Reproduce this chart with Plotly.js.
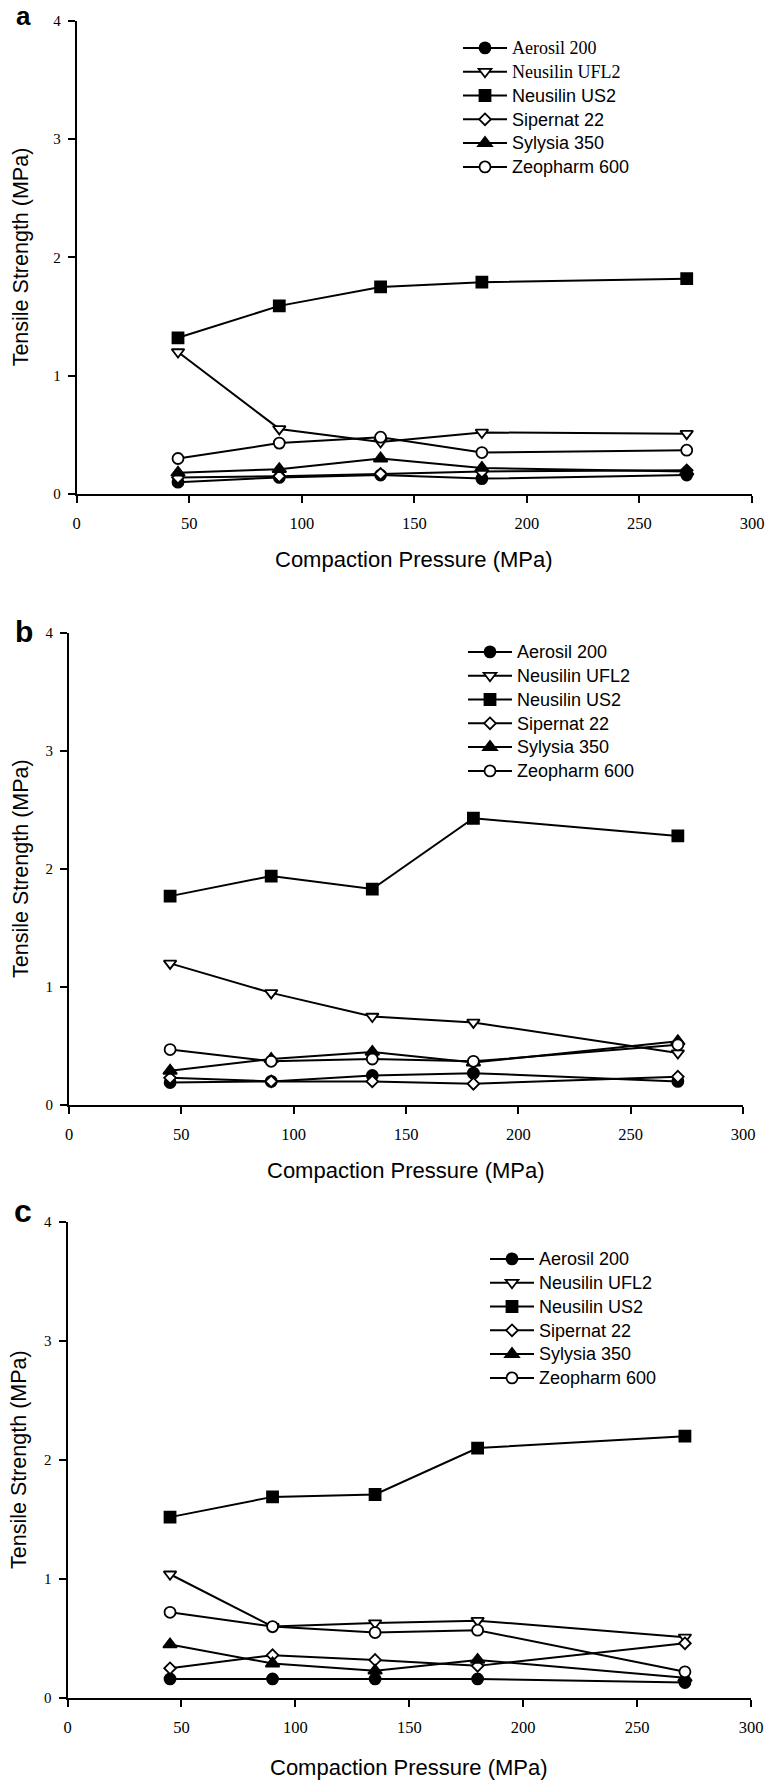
<!DOCTYPE html>
<html><head><meta charset="utf-8">
<script src="https://cdn.plot.ly/plotly-3.0.1.min.js"></script>
<style>html,body{margin:0;padding:0;background:#fff;} #chart{width:769px;height:1781px;}</style>
</head><body><div id="chart"></div>
<script>
// ---------- data ----------
const pressure = [45, 90, 135, 180, 271];
const seriesNames = ['Aerosil 200', 'Neusilin UFL2', 'Neusilin US2', 'Sipernat 22', 'Sylysia 350', 'Zeopharm 600'];
const xTicks = [0, 50, 100, 150, 200, 250, 300];
const yTicks = [0, 1, 2, 3, 4];
const panelLabels = ['a', 'b', 'c'];
const xTitle = 'Compaction Pressure (MPa)';
const yTitle = 'Tensile Strength (MPa)';

// panel a
const aerosilA   = [0.10, 0.14, 0.16, 0.13, 0.16];
const ufl2A      = [1.20, 0.55, 0.44, 0.52, 0.51];
const us2A       = [1.32, 1.59, 1.75, 1.79, 1.82];
const sipernatA  = [0.14, 0.15, 0.17, 0.19, 0.20];
const sylysiaA   = [0.18, 0.21, 0.30, 0.22, 0.19];
const zeopharmA  = [0.30, 0.43, 0.48, 0.35, 0.37];
// panel b
const aerosilB   = [0.19, 0.20, 0.25, 0.27, 0.20];
const ufl2B      = [1.20, 0.95, 0.75, 0.70, 0.44];
const us2B       = [1.77, 1.94, 1.83, 2.43, 2.28];
const sipernatB  = [0.23, 0.20, 0.20, 0.18, 0.24];
const sylysiaB   = [0.29, 0.39, 0.45, 0.36, 0.54];
const zeopharmB  = [0.47, 0.37, 0.39, 0.37, 0.51];
// panel c
const aerosilC   = [0.16, 0.16, 0.16, 0.16, 0.13];
const ufl2C      = [1.04, 0.60, 0.63, 0.65, 0.51];
const us2C       = [1.52, 1.69, 1.71, 2.10, 2.20];
const sipernatC  = [0.25, 0.36, 0.32, 0.27, 0.46];
const sylysiaC   = [0.45, 0.29, 0.23, 0.32, 0.17];
const zeopharmC  = [0.72, 0.60, 0.55, 0.57, 0.22];

// ---------- styling ----------
const W = 769, H = 1781;
const px = v => v / W;
const py = v => 1 - v / H;

const markerStyles = [
  {symbol: 'circle',        size: 11, color: '#000'},
  {symbol: 'triangle-down', size: 11, color: '#fff'},
  {symbol: 'square',        size: 11, color: '#000'},
  {symbol: 'diamond',       size: 9,  color: '#fff'},
  {symbol: 'triangle-up',   size: 12, color: '#000'},
  {symbol: 'circle',        size: 11, color: '#fff'}
];

// pixel geometry of the three panels
const panels = [
  {x0: 76.7, x1: 752, yT: 20.7, yB: 494,  legX: 458, legY: 31,   yTitleX: 21},
  {x0: 69,   x1: 743, yT: 633,  yB: 1105, legX: 463, legY: 635,  yTitleX: 21},
  {x0: 67.5, x1: 751, yT: 1222, yB: 1698, legX: 485, legY: 1242, yTitleX: 19}
];
const xTitleY = [560, 1170, 1767];
// [x, y, font size, anchor]
const letterPos = [[23, 0, 26, 'top'], [24, 631, 30, 'middle'], [23, 1211, 32, 'middle']];

const panelData = [
  [aerosilA, ufl2A, us2A, sipernatA, sylysiaA, zeopharmA],
  [aerosilB, ufl2B, us2B, sipernatB, sylysiaB, zeopharmB],
  [aerosilC, ufl2C, us2C, sipernatC, sylysiaC, zeopharmC]
];

function legendName(name, p, i) {
  if (p === 0 && i < 2) return '<span style="font-family:Liberation Serif;font-size:18px">' + name + '</span>';
  return '<span style="font-size:18px">' + name + '</span>';
}

const traces = [];
panelData.forEach((series, p) => {
  const sfx = p === 0 ? '' : String(p + 1);
  series.forEach((vals, i) => {
    const m = markerStyles[i];
    traces.push({
      type: 'scatter', mode: 'lines+markers',
      x: pressure, y: vals,
      name: legendName(seriesNames[i], p, i),
      xaxis: 'x' + sfx, yaxis: 'y' + sfx,
      legend: 'legend' + sfx,
      line: {color: '#000', width: 2},
      marker: {symbol: m.symbol, size: m.size, color: m.color, line: {color: '#000', width: 1.8}},
      hoverinfo: 'skip'
    });
  });
});

const layout = {
  width: W, height: H,
  margin: {l: 0, r: 0, t: 0, b: 0},
  paper_bgcolor: '#fff', plot_bgcolor: '#fff',
  showlegend: true,
  annotations: []
};

const axisCommon = {
  showline: true, linecolor: '#000', linewidth: 2,
  ticks: 'outside', ticklen: 7, tickwidth: 2, tickcolor: '#000',
  showgrid: false, zeroline: false, fixedrange: true
};

panels.forEach((g, p) => {
  const sfx = p === 0 ? '' : String(p + 1);
  layout['xaxis' + sfx] = Object.assign({}, axisCommon, {
    domain: [px(g.x0), px(g.x1)], anchor: 'y' + sfx,
    range: [0, 300], tickmode: 'array', tickvals: xTicks, ticktext: xTicks.map(String),
    tickfont: {family: 'Liberation Serif', size: 16.5, color: '#000'},
    ticklabelstandoff: 6
  });
  layout['yaxis' + sfx] = Object.assign({}, axisCommon, {
    domain: [py(g.yB), py(g.yT)], anchor: 'x' + sfx,
    range: [0, 4], tickmode: 'array', tickvals: yTicks, ticktext: yTicks.map(String),
    tickfont: {family: 'Liberation Serif', size: 15, color: '#000'},
    ticklabelstandoff: 4
  });
  layout['legend' + sfx] = {
    x: px(g.legX), y: py(g.legY), xanchor: 'left', yanchor: 'top',
    font: {family: 'Liberation Sans', size: 16, color: '#000'},
    bgcolor: 'rgba(0,0,0,0)', borderwidth: 0, itemwidth: 44, tracegroupgap: 0
  };
  layout.annotations.push({
    text: xTitle, xref: 'paper', yref: 'paper',
    x: px((g.x0 + g.x1) / 2), y: py(xTitleY[p]), xanchor: 'center', yanchor: 'middle',
    showarrow: false, font: {family: 'Liberation Sans', size: 22, color: '#000'}
  });
  layout.annotations.push({
    text: yTitle, xref: 'paper', yref: 'paper', textangle: -90,
    x: px(g.yTitleX), y: py((g.yT + g.yB) / 2), xanchor: 'center', yanchor: 'middle',
    showarrow: false, font: {family: 'Liberation Sans', size: 21.5, color: '#000'}
  });
  const lp = letterPos[p];
  layout.annotations.push({
    text: '<b>' + panelLabels[p] + '</b>', xref: 'paper', yref: 'paper',
    x: px(lp[0]), y: py(lp[1]), xanchor: 'center', yanchor: lp[3], borderpad: 0,
    showarrow: false, font: {family: 'Liberation Sans', size: lp[2], color: '#000'}
  });
});

Plotly.newPlot('chart', traces, layout, {displayModeBar: false, staticPlot: true});
</script>
</body></html>
